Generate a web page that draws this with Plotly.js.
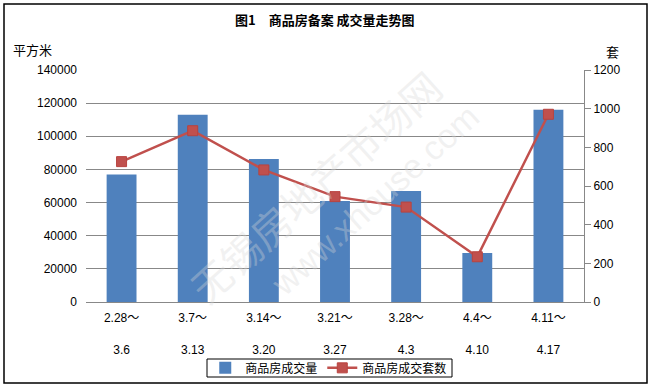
<!DOCTYPE html>
<html>
<head>
<meta charset="utf-8">
<script src="https://cdn.plot.ly/plotly-3.0.1.min.js"></script>
<style>
html,body{margin:0;padding:0;background:#fff;}
#chart{width:651px;height:386px;}
</style>
</head>
<body>
<div id="chart"></div>
<script>
const categories = ["2.28～<br><br>3.6", "3.7～<br><br>3.13", "3.14～<br><br>3.20", "3.21～<br><br>3.27", "3.28～<br><br>4.3", "4.4～<br><br>4.10", "4.11～<br><br>4.17"];
const areaValues = [77000, 113000, 86300, 61000, 67000, 29500, 116000];
const unitValues = [726, 886, 683, 545, 491, 234, 971];
const leftTicks = [0, 20000, 40000, 60000, 80000, 100000, 120000, 140000];
const rightTicks = [0, 200, 400, 600, 800, 1000, 1200];

const font = "Liberation Sans, 'Noto Sans CJK SC', sans-serif";
const cjk = "'Noto Sans CJK SC', sans-serif";

const traces = [
  {
    type: "bar",
    name: "商品房成交量",
    x: categories,
    y: areaValues,
    marker: {color: "#4F81BD"},
    width: 0.42,
    yaxis: "y"
  },
  {
    type: "scatter",
    mode: "lines+markers",
    name: "商品房成交套数",
    x: categories,
    y: unitValues,
    line: {color: "#C0504D", width: 2.5},
    marker: {symbol: "square", size: 10, color: "#C0504D", line: {color: "#B8433F", width: 1}},
    yaxis: "y2"
  }
];

// pixel helpers for paper coordinates (plot area: x 86..584, y 70..302)
const px = v => (v - 86) / 498;
const py = v => (302 - v) / 232;

const layout = {
  width: 651,
  height: 386,
  margin: {l: 86, r: 67, t: 70, b: 84, autoexpand: false},
  paper_bgcolor: "#fff",
  plot_bgcolor: "#fff",
  font: {family: font, size: 12, color: "#000"},
  showlegend: true,
  legend: {
    orientation: "h",
    xref: "container", yref: "container",
    x: 0.505, xanchor: "center",
    y: 0.047, yanchor: "middle",
    borderwidth: 0,
    font: {size: 12, family: cjk},
    itemwidth: 30,
    tracegroupgap: 0,
    bgcolor: "rgba(255,255,255,0)"
  },
  xaxis: {
    type: "category",
    showgrid: false,
    showline: true,
    linecolor: "#888",
    linewidth: 1,
    ticks: "",
    ticklabelstandoff: 5,
    tickfont: {size: 12, family: font},
    automargin: false
  },
  yaxis: {
    range: [0, 140000],
    tickvals: leftTicks,
    ticktext: leftTicks.map(String),
    showgrid: true,
    gridcolor: "#888",
    gridwidth: 1,
    zeroline: false,
    showline: false,
    ticks: "",
    ticklabelstandoff: 8,
    tickfont: {size: 12, family: font},
    automargin: false
  },
  yaxis2: {
    overlaying: "y",
    side: "right",
    range: [0, 1200],
    tickvals: rightTicks,
    ticktext: rightTicks.map(String),
    showgrid: false,
    zeroline: false,
    showline: true,
    linecolor: "#888",
    linewidth: 1,
    ticks: "outside",
    ticklen: 6,
    tickcolor: "#888",
    tickfont: {size: 12, family: font},
    automargin: false
  },
  annotations: [
    {text: "<b>图1　商品房备案 成交量走势图</b>", xref: "paper", yref: "paper", x: 0.48, y: 1, yshift: 51, xanchor: "center", yanchor: "middle", showarrow: false, font: {size: 13, family: cjk}},
    {text: "平方米", xref: "paper", yref: "paper", x: 0, xshift: -75, y: 1, yshift: 21, xanchor: "left", yanchor: "middle", showarrow: false, font: {size: 13, family: cjk}},
    {text: "套", xref: "paper", yref: "paper", x: 1, xshift: 28, y: 1, yshift: 19, xanchor: "center", yanchor: "middle", showarrow: false, font: {size: 13, family: cjk}},
    {text: "无锡房地产市场网", xref: "paper", yref: "paper", x: 0.46, y: 0.5, xanchor: "center", yanchor: "middle", showarrow: false, textangle: -42, font: {size: 40, color: "rgba(215,215,215,0.35)", family: cjk}},
    {text: "www.xhouse.com", xref: "paper", yref: "paper", x: 0.58, y: 0.44, xanchor: "center", yanchor: "middle", showarrow: false, textangle: -42, font: {size: 34, color: "rgba(215,215,215,0.35)", family: "Liberation Sans, sans-serif"}}
  ],
  shapes: [
    {
      type: "rect", xref: "paper", yref: "paper",
      x0: px(4), x1: px(647), y0: py(383), y1: py(4),
      line: {color: "#000", width: 1.5}, fillcolor: "rgba(0,0,0,0)", layer: "above"
    },
    {
      type: "rect", xref: "paper", yref: "paper",
      x0: px(207), x1: px(452), y0: py(377), y1: py(359),
      line: {color: "#000", width: 1}, fillcolor: "rgba(0,0,0,0)", layer: "above"
    }
  ]
};

Plotly.newPlot("chart", traces, layout, {displayModeBar: false, staticPlot: true});
</script>
</body>
</html>
